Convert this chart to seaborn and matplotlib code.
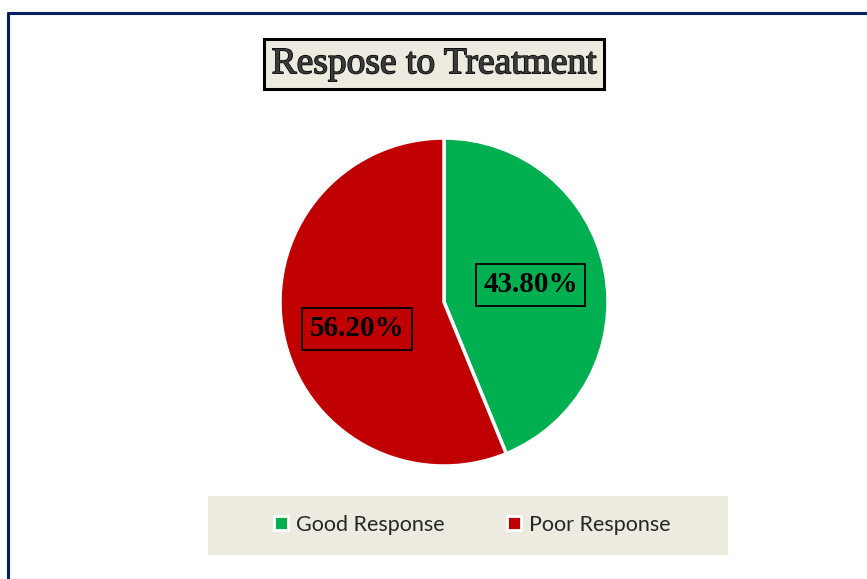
import matplotlib
matplotlib.use("Agg")
import matplotlib.pyplot as plt
import matplotlib.patheffects as pe
from matplotlib.lines import Line2D
from matplotlib.patches import Rectangle
import seaborn as sns

# data
labels = ["Good Response", "Poor Response"]
values = [43.8, 56.2]
colors = ["#00B050", "#C00000"]
title = "Respose to Treatment"

sns.set_theme(style="white")
W, H = 867, 579
fig = plt.figure(figsize=(W / 100, H / 100), dpi=100)
fig.patch.set_facecolor("white")

def fx(px):
    return px / W

def fy(py):
    return 1 - py / H

# chart frame (left + top edges visible)
navy = "#002060"
fig.add_artist(Line2D([fx(8), fx(8)], [fy(13), 0], color=navy, lw=2.2))
fig.add_artist(Line2D([fx(8), 1], [fy(13), fy(13)], color=navy, lw=2.2))

# pie
cx, cy, r = 444, 302, 164
ax = fig.add_axes([fx(cx - r), fy(cy + r), 2 * r / W, 2 * r / H])
wedges, texts, autotexts = ax.pie(
    values, colors=colors, startangle=90, counterclock=False,
    autopct="%.2f%%", pctdistance=0.54,
    wedgeprops=dict(edgecolor="white", linewidth=2.5),
    textprops=dict(family="Liberation Serif", weight="bold", fontsize=21, color="black"),
)
for t in autotexts:
    t.set_bbox(dict(facecolor="none", edgecolor="black", linewidth=1.3, boxstyle="square,pad=0.25"))
autotexts[1].set_y(autotexts[1].get_position()[1] - 0.06)
ax.set_xlim(-1, 1)
ax.set_ylim(-1, 1)
ax.set_aspect("equal")
ax.axis("off")

# title
fig.text(fx(434), fy(64), title, ha="center", va="center",
         family="Liberation Serif", fontsize=27, color="#3a3a3a",
         path_effects=[pe.withStroke(linewidth=1.0, foreground="black")],
         bbox=dict(facecolor="#EDEBE0", edgecolor="black", linewidth=2.2,
                   boxstyle="square,pad=0.2"))

# legend
fig.add_artist(Rectangle((fx(208), fy(555)), fx(728 - 208), (555 - 496) / H,
                         facecolor="#EDEBE0", edgecolor="none", transform=fig.transFigure))
handles = [Line2D([], [], marker="s", linestyle="none", markersize=10,
                  markerfacecolor=c, markeredgecolor="white", markeredgewidth=2)
           for c in colors]
fig.legend(handles, labels, loc="center", bbox_to_anchor=(fx(472), fy(525)),
           ncol=2, frameon=False, handlelength=0.7, handletextpad=0.35, columnspacing=2.9,
           prop=dict(family="Lato", size=15.5))

fig.savefig("out.png", dpi=100)
